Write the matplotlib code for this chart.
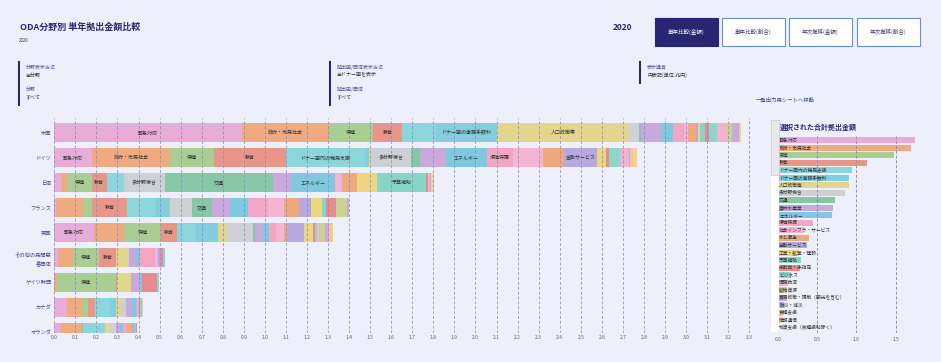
import numpy as np
import matplotlib
matplotlib.use('Agg')
import matplotlib.pyplot as plt
from matplotlib.patches import Rectangle

plt.rcParams['font.family'] = ['Noto Sans CJK JP', 'DejaVu Sans']

# ---- data ----
categories = ['緊急対応', '政府・市民社会', '保健', '教育', 'ドナー国内の難民支援',
              'ドナー国の事務手数料', '人口政策等', '多分野複合', '交通', '農林水産業',
              'エネルギー', '環境保護', '社会インフラ・サービス', '水と衛生', '金融サービス',
              '工業・鉱業・建設', '予算補助', '未割当・未指定', 'ビジネス', '債務救済',
              '鉱物資源', '貿易政策・規制（観光を含む）', '防災・減災', '食糧支援', '情報通信',
              '物資支援（食糧援助除く）']
colors = ['#e8acd8', '#f0aa80', '#a9cd92', '#e8968a', '#8ad6dc', '#82cedc', '#e2d68a',
          '#cdd1d6', '#86c8a6', '#c9a9dc', '#7ec8e0', '#f1a7c4', '#f4b5d4', '#efa97f',
          '#b8a8e0', '#ecd684', '#86d6c6', '#e88a90', '#8ad8cc', '#f2b3d0', '#c8d490',
          '#cba8e2', '#a8b2e8', '#f4c890', '#f8d090', '#e6e6ee']

donors = ['米国', 'ドイツ', '日本', 'フランス', '英国', 'その他の民間慈\n善団体',
          'ゲイツ財団', 'カナダ', 'オランダ']

us = [0.891, 0.415, 0.209, 0.136, 0.162, 0.287, 0.630, 0.045, 0.010, 0.095, 0.060, 0.050, 0.020,
      0.035, 0.013, 0.008, 0.024, 0.020, 0.035, 0.048, 0.024, 0.030, 0.005, 0.004, 0.003, 0.003]
germany = [0.179, 0.370, 0.211, 0.340, 0.375, 0.021, 0.008, 0.191, 0.041, 0.124, 0.195, 0.122, 0.145,
           0.100, 0.156, 0.042, 0.0, 0.016, 0.050, 0.041, 0.0, 0.0, 0.007, 0.015, 0.016, 0.0]
japan = [0.033, 0.029, 0.117, 0.070, 0.082, 0.0, 0.0, 0.193, 0.516, 0.085, 0.206, 0.0, 0.037,
         0.071, 0.0, 0.093, 0.233, 0.008, 0.0, 0.011, 0.0, 0.0, 0.006, 0.0, 0.013, 0.0]
france = [0.008, 0.127, 0.044, 0.166, 0.133, 0.071, 0.007, 0.096, 0.097, 0.085, 0.084, 0.095, 0.079,
          0.070, 0.057, 0.051, 0.019, 0.049, 0.0, 0.0, 0.053, 0.010, 0.0, 0.0, 0.0, 0.0]
uk = [0.187, 0.143, 0.177, 0.076, 0.085, 0.109, 0.042, 0.125, 0.009, 0.038, 0.028, 0.032, 0.040,
      0.012, 0.081, 0.043, 0.0, 0.012, 0.008, 0.010, 0.028, 0.021, 0.0, 0.016, 0.0, 0.0]
others = [0.016, 0.074, 0.122, 0.081, 0.0, 0.0, 0.058, 0.005, 0.0, 0.030, 0.016, 0.076, 0.016,
          0.0, 0.011, 0.0, 0.0, 0.010, 0.011, 0.0, 0.0, 0.0, 0.0, 0.0, 0.0, 0.0]
gates = [0.0, 0.011, 0.282, 0.006, 0.0, 0.0, 0.064, 0.0, 0.0, 0.044, 0.008, 0.0, 0.0,
         0.0, 0.0, 0.0, 0.0, 0.074, 0.007, 0.0, 0.0, 0.0, 0.0, 0.0, 0.0, 0.0]
canada = [0.060, 0.070, 0.032, 0.031, 0.071, 0.027, 0.024, 0.025, 0.0, 0.024, 0.022, 0.015, 0.0,
          0.0, 0.007, 0.0, 0.007, 0.0, 0.0, 0.0, 0.0, 0.0, 0.0, 0.005, 0.0, 0.0]
netherlands = [0.032, 0.095, 0.005, 0.006, 0.104, 0.0, 0.020, 0.030, 0.0, 0.020, 0.015, 0.020, 0.0,
               0.020, 0.010, 0.0, 0.010, 0.008, 0.0, 0.0, 0.0, 0.0, 0.0, 0.0, 0.0, 0.0]

totals = [1.75, 1.69, 1.48, 1.14, 0.94, 0.91, 0.90, 0.86, 0.725, 0.70, 0.69, 0.45, 0.33,
          0.39, 0.37, 0.27, 0.29, 0.28, 0.17, 0.13, 0.12, 0.11, 0.08, 0.06, 0.05, 0.02]

main_ticks = np.round(np.arange(0, 3.31, 0.1), 1)
side_ticks = [0.0, 0.5, 1.0, 1.5]

bg = '#edf0fa'
navy = '#262673'
axis_txt = '#5a5a9a'

fig = plt.figure(figsize=(9.41, 3.62), dpi=100, facecolor=bg)

# ---- header ----
fig.text(20 / 941, 1 - 27 / 362, 'ODA分野別 単年拠出金額比較', fontsize=6.5, fontweight='bold',
         color=navy, va='center')
fig.text(19 / 941, 1 - 41 / 362, '2020', fontsize=3.2, color='#333344', va='center')
fig.text(613 / 941, 1 - 27 / 362, '2020', fontsize=6, fontweight='bold', color=navy, va='center')

buttons = ['単年比較(金額)', '単年比較(割合)', '年次推移(金額)', '年次推移(割合)']
btn_x = [655, 722, 789, 857]
for i, (lab, bx) in enumerate(zip(buttons, btn_x)):
    active = i == 0
    fig.patches.append(Rectangle((bx / 941, 1 - 46 / 362), 63 / 941, 28 / 362,
                                 transform=fig.transFigure, facecolor=navy if active else 'white',
                                 edgecolor=navy if active else '#6a90c4', linewidth=0.8))
    fig.text((bx + 31.5) / 941, 1 - 32 / 362, lab, fontsize=4, ha='center', va='center',
             color='white' if active else '#3a3a7a')

filters = [(18, ['分野表示方法', '全分野', '分野', 'すべて'], 106),
           (329, ['拠出国/団体表示方法', '全ドナー国を表示', '拠出国/団体', 'すべて'], 106),
           (639, ['表示通貨', '円表記(単位:兆円)'], 84)]
for fx, lines, fb in filters:
    fig.patches.append(Rectangle((fx / 941, 1 - fb / 362), 2.2 / 941, (fb - 61) / 362,
                                 transform=fig.transFigure, facecolor=navy, edgecolor='none'))
    ys = [67, 75, 89, 97]
    for j, t in enumerate(lines):
        fig.text((fx + 8) / 941, 1 - ys[j] / 362, t, fontsize=3.6, va='center',
                 color='#5a5a9a' if j % 2 == 0 else '#333344')

fig.text(785 / 941, 1 - 99.5 / 362, '一覧出力用シートへ移動', fontsize=3.9, ha='center',
         va='center', color='#3a4a8a')

# ---- main stacked bar chart ----
ax = fig.add_axes([54.3 / 941, 1 - 332.5 / 362, 705.5 / 941, 214.5 / 362])
ax.set_facecolor(bg)
rows = [us, germany, japan, france, uk, others, gates, canada, netherlands]
y = np.arange(len(donors))
left = np.zeros(len(donors))
segments = []
for k, cat in enumerate(categories):
    vals = np.array([r[k] for r in rows])
    ax.barh(y, vals, left=left, height=0.76, color=colors[k], linewidth=0, zorder=2)
    for i in range(len(donors)):
        if vals[i] > 0:
            segments.append((left[i], vals[i], y[i], cat))
    left = left + vals

ax.set_xlim(0, 3.35)
ax.set_ylim(7.79, -0.6)
ax.set_xticks(main_ticks)
ax.set_xticklabels([f'{t:.1f}' for t in main_ticks], fontsize=3.6, color=axis_txt)
ax.set_yticks(y)
ax.set_yticklabels(donors, fontsize=3.8, color='#4a4a8a', linespacing=1.5)
ax.tick_params(length=0, pad=2)
for t in main_ticks:
    ax.axvline(t, color='#8c8cc0', lw=0.7, ls=(0, (3, 2)), zorder=3, alpha=0.8)
for s in ax.spines.values():
    s.set_visible(False)

# label a segment only when its name fits inside it
fig.canvas.draw()
renderer = fig.canvas.get_renderer()
px_per_unit = ax.transData.transform((1, 0))[0] - ax.transData.transform((0, 0))[0]
for x0, w, yy, cat in segments:
    txt = ax.text(x0 + w / 2, yy, cat, fontsize=3.6, ha='center', va='center',
                  color='#333333', zorder=4, clip_on=True)
    tw = txt.get_window_extent(renderer).width
    if tw + 2 > w * px_per_unit:
        txt.remove()

# ---- side panel: totals ----
fig.patches.append(Rectangle((770.5 / 941, 1 - 332 / 362), 8 / 941, 157 / 362,
                             transform=fig.transFigure, facecolor='white', edgecolor='none'))
fig.patches.append(Rectangle((770.5 / 941, 1 - 175 / 362), 8 / 941, 55 / 362,
                             transform=fig.transFigure, facecolor='#e8e8ec', edgecolor='#c8c8d0',
                             linewidth=0.5))
fig.text(780 / 941, 1 - 127 / 362, '選択された合計拠出金額', fontsize=5, fontweight='bold',
         color=navy, va='center')

ax2 = fig.add_axes([778 / 941, 1 - 333 / 362, 153 / 941, 197 / 362])
ax2.set_facecolor(bg)
yy2 = np.arange(len(categories))
ax2.barh(yy2, totals, height=0.8, color=colors, linewidth=0, zorder=2)
for i, cat in enumerate(categories):
    ax2.text(0.015, i, cat, fontsize=3.4, va='center', ha='left', color='#333333', zorder=4)
ax2.set_xlim(0, 1.95)
ax2.set_ylim(25.7, -0.6)
ax2.set_yticks([])
ax2.set_xticks(side_ticks)
ax2.set_xticklabels([f'{t:.1f}' for t in side_ticks], fontsize=3.6, color=axis_txt)
ax2.tick_params(length=0, pad=3)
for t in side_ticks[1:]:
    ax2.axvline(t, color='#8c8cc0', lw=0.7, ls=(0, (3, 2)), zorder=3)
for s in ax2.spines.values():
    s.set_visible(False)

fig.savefig('out.png', dpi=100, facecolor=bg)
